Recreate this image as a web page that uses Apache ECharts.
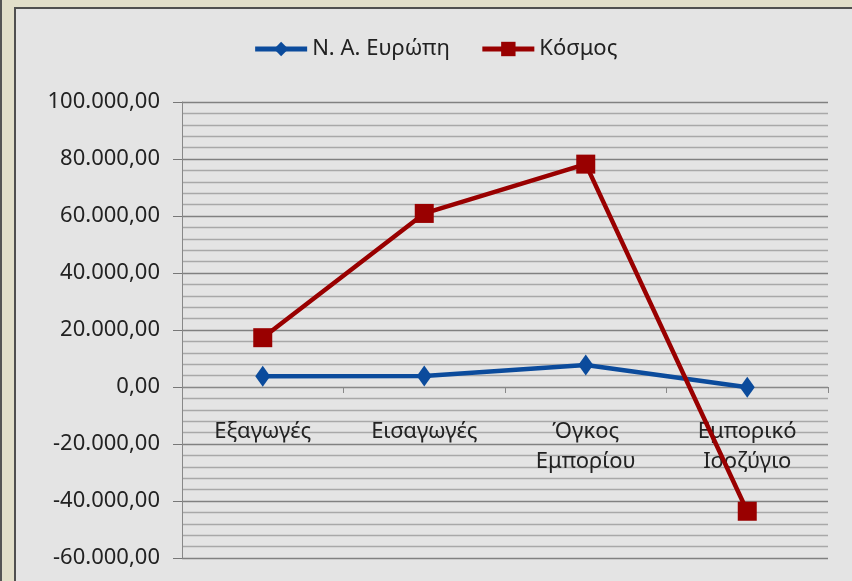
<!DOCTYPE html>
<html>
<head>
<meta charset="utf-8">
<script src="https://cdn.jsdelivr.net/npm/echarts@6/dist/echarts.min.js"></script>
<style>
  html, body { margin: 0; padding: 0; width: 852px; height: 581px; overflow: hidden; background: #e2dfca; }
  #leftEdge { position: absolute; left: 0; top: 0; width: 2px; height: 581px; background: #555; }
  #myChart { position: absolute; left: 14px; top: 7px; width: 838px; height: 574px;
             border-left: 2px solid #505050; border-top: 2px solid #505050; background: #e4e4e4; }
</style>
</head>
<body>
<div id="leftEdge"></div>
<div id="myChart"></div>
<script>
  var categories = ['Εξαγωγές', 'Εισαγωγές', 'Όγκος\nΕμπορίου', 'Εμπορικό\nΙσοζύγιο'];
  var seriesNames = ['Ν. Α. Ευρώπη', 'Κόσμος'];
  var europeData = [3800, 3900, 7700, -100];
  var worldData = [17300, 60900, 78200, -43600];

  // 100000 -> "100.000,00"
  function fmt(v) {
    var neg = v < 0;
    var s = Math.abs(v).toFixed(0).replace(/\B(?=(\d{3})+(?!\d))/g, '.');
    return (neg ? '-' : '') + s + ',00';
  }

  var myChart = echarts.init(document.getElementById('myChart'));
  var font = '"Noto Sans", sans-serif';
  var option = {
    animation: false,
    legend: {
      top: 24,
      left: 'center',
      itemWidth: 52,
      itemHeight: 18,
      itemGap: 30,
      data: seriesNames,
      lineStyle: { width: 5 },
      textStyle: { fontFamily: font, fontSize: 22, color: '#222' }
    },
    grid: { left: 166, right: 26, top: 93, bottom: 25, outerBoundsMode: 'none' },
    xAxis: [{
      // axis line at zero, ticks between categories
      type: 'category',
      boundaryGap: true,
      data: categories,
      axisLine: { show: true, onZero: true, lineStyle: { color: '#888', width: 1 } },
      axisTick: { show: true, length: 6, lineStyle: { color: '#888' } },
      axisLabel: { show: false }
    }, {
      // labels only, pulled up from the bottom under the zero line
      type: 'category',
      position: 'bottom',
      boundaryGap: true,
      data: categories,
      axisLine: { show: false, onZero: false },
      axisTick: { show: false },
      axisLabel: {
        margin: -141,
        interval: 0,
        fontFamily: font,
        fontSize: 22,
        lineHeight: 30,
        color: '#222'
      }
    }],
    yAxis: {
      type: 'value',
      min: -60000,
      max: 100000,
      interval: 20000,
      axisLine: { show: true, lineStyle: { color: '#888' } },
      axisTick: { show: true, length: 9, lineStyle: { color: '#777' } },
      axisLabel: {
        margin: 22,
        fontFamily: font,
        fontSize: 22,
        color: '#222',
        formatter: fmt
      },
      splitLine: { show: true, lineStyle: { color: '#808080', width: 1.3 } },
      minorTick: { show: false, splitNumber: 5 },
      minorSplitLine: { show: true, lineStyle: { color: '#a8a8a8', width: 1.3 } }
    },
    series: [
      {
        name: seriesNames[0],
        type: 'line',
        data: europeData,
        symbol: 'diamond',
        symbolSize: [15, 21],
        lineStyle: { color: '#0b4b9c', width: 4.5 },
        itemStyle: { color: '#0b4b9c' }
      },
      {
        name: seriesNames[1],
        type: 'line',
        data: worldData,
        symbol: 'rect',
        symbolSize: 19,
        lineStyle: { color: '#990000', width: 4.5 },
        itemStyle: { color: '#990000' }
      }
    ]
  };
  myChart.setOption(option);
</script>
</body>
</html>
